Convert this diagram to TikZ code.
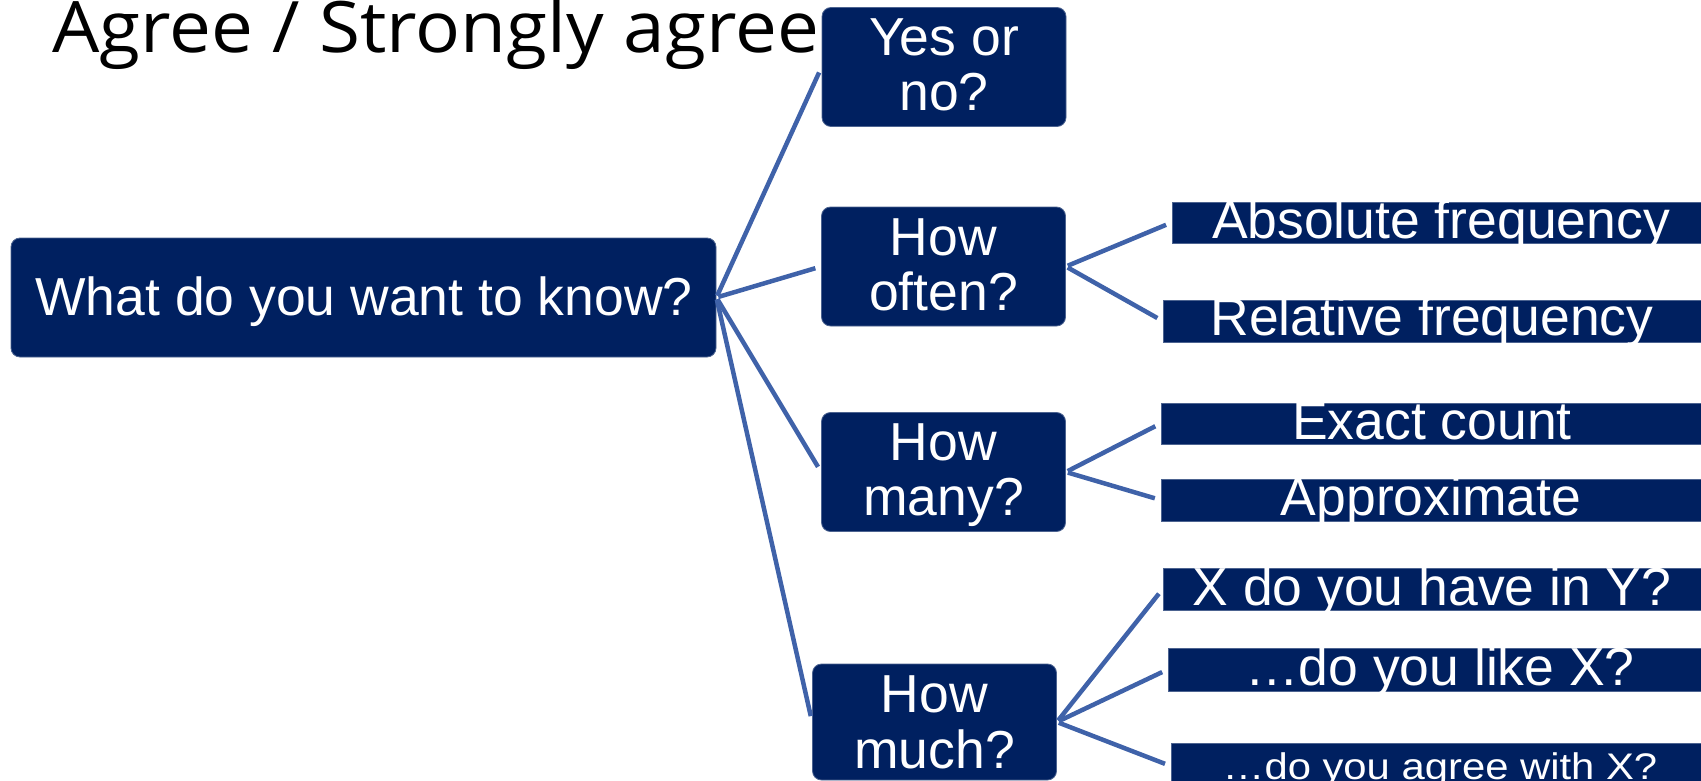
\documentclass[tikz,border=0pt]{standalone}
\usepackage{fontspec}
\setmainfont{Liberation Sans}
\newfontfamily\titlefont{Open Sans}
\definecolor{navy}{RGB}{0,32,96}
\definecolor{linkblue}{RGB}{63,98,169}
\tikzset{
  qbox/.style={fill=navy, draw=navy!70!white, line width=0.8pt, rounded corners=9pt,
               inner sep=0pt, minimum width=244pt, minimum height=119pt},
  leafbar/.style={fill=navy, draw=navy!70!white, line width=0.8pt, inner sep=0pt},
  qtext/.style={text=white, inner sep=0pt, anchor=base,
                font=\fontsize{53.5}{60}\selectfont},
  link/.style={draw=linkblue, line width=4.5pt, shorten <=2pt, shorten >=6pt},
}
\begin{document}
\begin{tikzpicture}[x=1pt, y=-1pt]
\useasboundingbox (0,0) rectangle (1701,781);
\clip (0,0) rectangle (1701,781);

% heading
\node[anchor=base west, inner sep=0pt, font=\titlefont\fontsize{71}{84}\selectfont]
  (title) at (52,53) {\scalebox{1.052}[1]{Agree / Strongly agree}};

% question boxes
\node[qbox, minimum width=705pt] (root) at (363.5,297.5) {};
\node[qbox] (yesno) at (944,67) {};
\node[qbox] (often) at (943.5,266.5) {};
\node[qbox] (many)  at (943.5,472) {};
\node[qbox, minimum height=116pt] (much)  at (934.5,722) {};

% answer bars
\node[leafbar, minimum width=540pt, minimum height=41pt] (abs)    at (1442,222.5) {};
\node[leafbar, minimum width=549pt, minimum height=42pt] (rel)    at (1437.5,321) {};
\node[leafbar, minimum width=551pt, minimum height=41pt] (exact)  at (1436.5,423.5) {};
\node[leafbar, minimum width=551pt, minimum height=42pt] (approx) at (1436.5,500) {};
\node[leafbar, minimum width=549pt, minimum height=42pt] (xy)     at (1437.5,589) {};
\node[leafbar, minimum width=544pt, minimum height=43pt] (like)   at (1440,669.5) {};
\node[leafbar, minimum width=541pt, minimum height=46pt] (agree)  at (1441.5,766) {};

% connectors
\draw[link] (root.east) -- (yesno.west);
\draw[link] (root.east) -- (often.west);
\draw[link] (root.east) -- (many.west);
\draw[link] (root.east) -- (much.west);
\draw[link] (often.east) -- (abs.west);
\draw[link] (often.east) -- (rel.west);
\draw[link] (many.east) -- (exact.west);
\draw[link] (many.east) -- (approx.west);
\draw[link] (much.east) -- (xy.west);
\draw[link] (much.east) -- (like.west);
\draw[link] (much.east) -- (agree.west);

% labels
\node[qtext] (troot) at (364,315) {What do you want to know?};
\node[qtext] (tyes1) at (944,56) {Yes or};
\node[qtext] (tyes2) at (944,111) {no?};
\node[qtext] (toft1) at (943.5,255) {How};
\node[qtext] (toft2) at (943.5,310) {often?};
\node[qtext] (tmany1) at (943.5,460) {How};
\node[qtext] (tmany2) at (943.5,515) {many?};
\node[qtext] (tmuch1) at (934.5,712) {How};
\node[qtext] (tmuch2) at (934.5,768) {much?};
\node[qtext] (tabs)    at (1441,238) {Absolute frequency};
\node[qtext] (trel)    at (1432,335) {Relative frequency};
\node[qtext] (texact)  at (1432,439) {Exact count};
\node[qtext] (tapprox) at (1431,515) {Approximate};
\node[qtext] (txy)     at (1432,605) {X do you have in Y?};
\node[qtext] (tlike)   at (1440,685) {…do you like X?};
\node[qtext, font=\fontsize{37}{44}\selectfont] (tagree) at (1440,779)
  {\scalebox{1.13}[1]{…do you agree with X?}};
\end{tikzpicture}
\end{document}
